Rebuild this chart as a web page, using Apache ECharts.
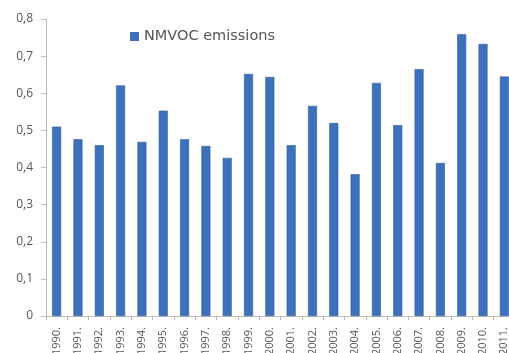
<!DOCTYPE html>
<html>
<head>
<meta charset="utf-8">
<script src="https://cdn.jsdelivr.net/npm/echarts@6/dist/echarts.min.js"></script>
<style>
  html, body { margin: 0; padding: 0; background: #ffffff; }
  #chart { width: 509px; height: 353px; }
</style>
</head>
<body>
<div id="chart"></div>
<script>
// Annual NMVOC emissions, 1990–2011
const years = ['1990.', '1991.', '1992.', '1993.', '1994.', '1995.', '1996.', '1997.', '1998.', '1999.', '2000.',
               '2001.', '2002.', '2003.', '2004.', '2005.', '2006.', '2007.', '2008.', '2009.', '2010.', '2011.'];
const emissions = [0.510, 0.476, 0.460, 0.621, 0.469, 0.553, 0.476, 0.458, 0.426, 0.652, 0.644,
                   0.460, 0.566, 0.520, 0.382, 0.628, 0.514, 0.665, 0.412, 0.759, 0.733, 0.645];
const seriesName = 'NMVOC emissions';

const FONT = '"Open Sans", "DejaVu Sans", sans-serif';
const LEGEND_FONT = '"DejaVu Sans", "Open Sans", sans-serif';
const chart = echarts.init(document.getElementById('chart'), null, { renderer: 'canvas' });

chart.setOption({
  animation: false,
  backgroundColor: '#ffffff',
  grid: { left: 46, right: -6, top: 19, bottom: 37, containLabel: false, outerBoundsMode: 'none' },
  legend: {
    data: [seriesName],
    left: 125,
    top: 24,
    icon: 'rect',
    itemWidth: 9,
    itemHeight: 9,
    itemGap: 5,
    itemStyle: { borderWidth: 0 },
    textStyle: { fontFamily: LEGEND_FONT, fontSize: 14.5, color: '#555555' }
  },
  xAxis: {
    type: 'category',
    data: years,
    boundaryGap: true,
    axisLine: { show: true, lineStyle: { color: '#c4bcb6', width: 1 } },
    axisTick: { show: true, length: 4, alignWithLabel: false, lineStyle: { color: '#c4b4a6' } },
    axisLabel: {
      rotate: 90,
      margin: 11,
      interval: 0,
      fontFamily: FONT,
      fontSize: 11,
      color: '#555555'
    },
    splitLine: { show: false }
  },
  yAxis: {
    type: 'value',
    min: 0,
    max: 0.8,
    interval: 0.1,
    axisLine: { show: true, lineStyle: { color: '#c4bcb6', width: 1 } },
    axisTick: { show: true, length: 5, lineStyle: { color: '#c4bcb6' } },
    axisLabel: {
      margin: 13,
      fontFamily: FONT,
      fontSize: 12,
      color: '#555555',
      formatter: v => (Math.round(v * 10) / 10).toString().replace('.', ',')
    },
    splitLine: { show: false }
  },
  series: [{
    name: seriesName,
    type: 'bar',
    data: emissions,
    barWidth: 9,
    itemStyle: { color: '#3e70bb', borderColor: '#2f5d9f', borderWidth: 0.6 }
  }]
});
</script>
</body>
</html>
